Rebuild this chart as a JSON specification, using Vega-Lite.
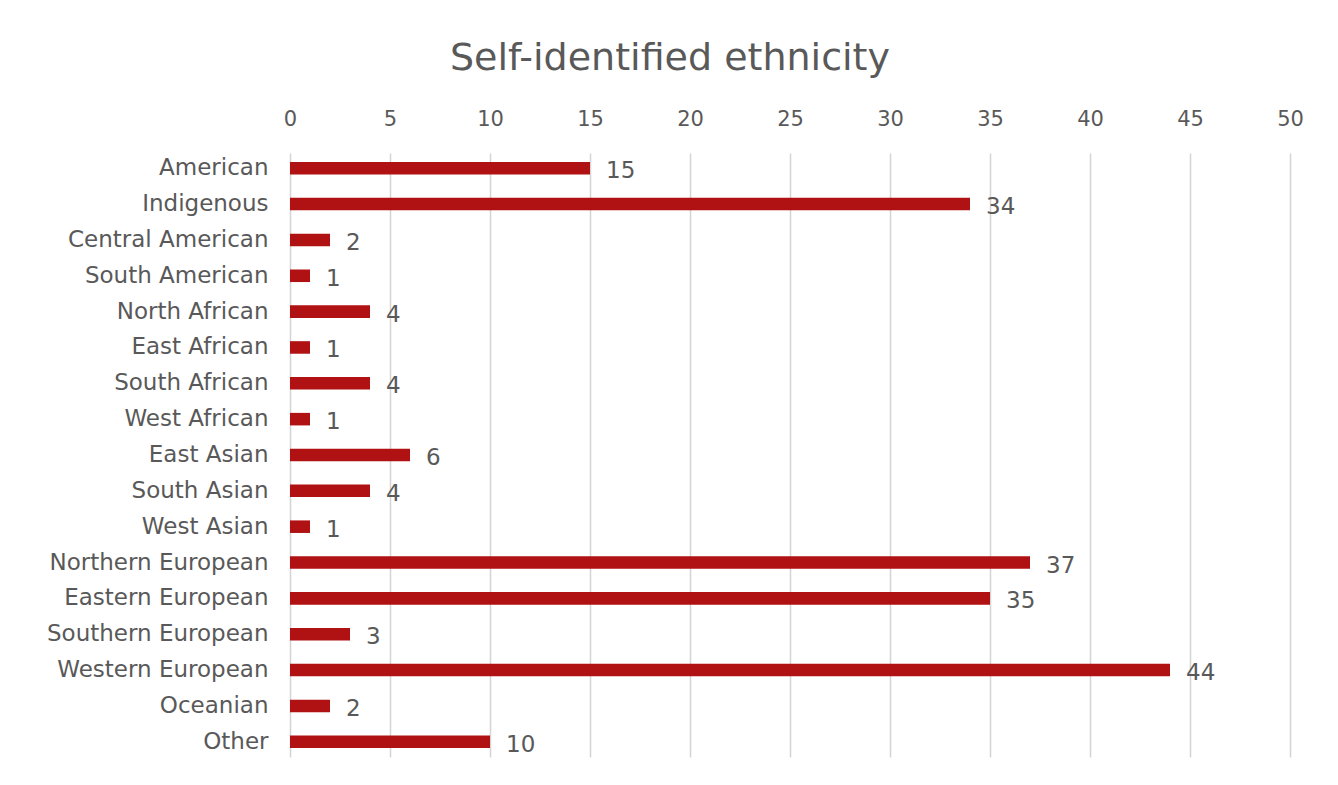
{
  "$schema": "https://vega.github.io/schema/vega-lite/v6.json",
  "autosize": "none",
  "width": 1000,
  "height": 604,
  "padding": {"left": 290, "top": 153, "right": 48, "bottom": 28},
  "background": "white",
  "title": {
    "text": "Self-identified ethnicity",
    "font": "DejaVu Sans",
    "fontSize": 38,
    "fontWeight": "normal",
    "color": "#595959",
    "anchor": "middle",
    "frame": "group",
    "dx": -120,
    "offset": 30
  },
  "data": {
    "values": [
      {"ethnicity": "American", "count": 15},
      {"ethnicity": "Indigenous", "count": 34},
      {"ethnicity": "Central American", "count": 2},
      {"ethnicity": "South American", "count": 1},
      {"ethnicity": "North African", "count": 4},
      {"ethnicity": "East African", "count": 1},
      {"ethnicity": "South African", "count": 4},
      {"ethnicity": "West African", "count": 1},
      {"ethnicity": "East Asian", "count": 6},
      {"ethnicity": "South Asian", "count": 4},
      {"ethnicity": "West Asian", "count": 1},
      {"ethnicity": "Northern European", "count": 37},
      {"ethnicity": "Eastern European", "count": 35},
      {"ethnicity": "Southern European", "count": 3},
      {"ethnicity": "Western European", "count": 44},
      {"ethnicity": "Oceanian", "count": 2},
      {"ethnicity": "Other", "count": 10}
    ]
  },
  "encoding": {
    "y": {
      "field": "ethnicity",
      "type": "nominal",
      "sort": null,
      "scale": {"paddingInner": 0.65, "paddingOuter": 0.25},
      "axis": {
        "title": null,
        "domain": false,
        "ticks": false,
        "labelFont": "DejaVu Sans",
        "labelFontSize": 23,
        "labelColor": "#595959",
        "labelPadding": 22,
        "labelLimit": 400
      }
    },
    "x": {
      "field": "count",
      "type": "quantitative",
      "scale": {"domain": [0, 50], "nice": false},
      "axis": {
        "orient": "top",
        "title": null,
        "values": [0, 5, 10, 15, 20, 25, 30, 35, 40, 45, 50],
        "domain": false,
        "ticks": false,
        "grid": true,
        "gridColor": "#d4d4d4",
        "gridWidth": 1.5,
        "labelFont": "DejaVu Sans",
        "labelFontSize": 21,
        "labelColor": "#595959",
        "labelPadding": 24,
        "labelFlush": false
      }
    }
  },
  "layer": [
    {"mark": {"type": "bar", "color": "#B01113"}},
    {
      "mark": {
        "type": "text",
        "align": "left",
        "baseline": "middle",
        "dx": 16,
        "dy": 3,
        "font": "DejaVu Sans",
        "fontSize": 23,
        "color": "#595959"
      },
      "encoding": {"text": {"field": "count", "type": "quantitative"}}
    }
  ],
  "config": {"view": {"stroke": null}}
}
